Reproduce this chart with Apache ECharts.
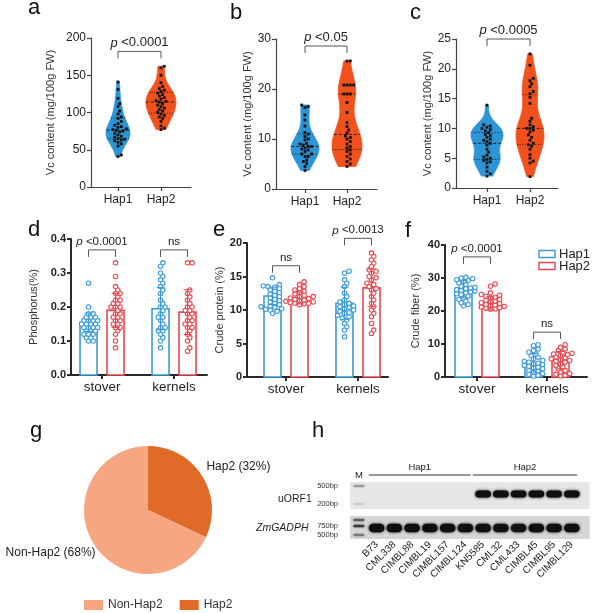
<!DOCTYPE html>
<html>
<head>
<meta charset="utf-8">
<title>Vc content, minerals and Hap2 frequency</title>
<script src="https://cdn.jsdelivr.net/npm/echarts@6.0.0/dist/echarts.min.js"></script>
<style>
html, body { margin: 0; padding: 0; background: #fff; }
#main { width: 594px; height: 613px; }
</style>
</head>
<body>
<div id="main"></div>
<script>
// 字体与配色
const FONT = '"Liberation Sans", Arial, sans-serif';
const VIOLIN_BLUE = '#2b95d6';
const VIOLIN_RED = '#f1521d';
const BAR_BLUE = '#3b9ad8';
const BAR_RED = '#e8474f';

// a-c: Vc content (mg/100g FW)
const hapNames = ['Hap1', 'Hap2'];
const vcA_hap1 = [141, 131, 119, 112, 108, 102, 98, 94, 92, 88, 85, 83, 81, 80, 78, 77, 76, 75, 74, 72, 70, 68, 67, 65, 64, 63, 62, 60, 58, 55, 43, 41];
const vcA_hap2 = [162, 160, 150, 140, 135, 132, 130, 128, 126, 124, 122, 120, 118, 116, 115, 114, 112, 110, 108, 106, 104, 102, 100, 98, 96, 94, 92, 88, 82, 79, 77];
const vcB_hap1 = [16.8, 16.5, 16.3, 14.8, 13.8, 12.6, 11.3, 11, 10.5, 10, 9.8, 9.1, 9, 8.8, 8.5, 8.5, 8.2, 8, 7.8, 7.5, 7, 7, 6.5, 6.5, 5.8, 5.5, 5.1, 4.5, 3.7];
const vcB_hap2 = [25.6, 25.6, 20.8, 20.8, 20.8, 20.8, 19, 19, 19, 17.3, 15.3, 13.3, 12.5, 11.8, 11.2, 10.6, 10.3, 10, 9.5, 9, 8.5, 8.2, 7.8, 7.5, 7, 6.5, 6, 5.5, 5, 4.5];
const vcC_hap1 = [13.9, 10.6, 10.4, 10.2, 10, 9.8, 9.6, 9.3, 9, 8.8, 8.5, 8.2, 8, 7.8, 7.5, 7.2, 6.5, 6, 5.5, 5.2, 5, 4.8, 4.6, 4.4, 4.2, 3.5, 2.8, 2.4, 2];
const vcC_hap2 = [22.5, 20.6, 18.4, 18, 17.5, 17, 16.2, 15.8, 15.2, 14.2, 11.7, 11.2, 10.6, 10.3, 10, 10, 9.7, 9.4, 8.9, 8.5, 8, 7.5, 7.25, 7, 6.5, 5.6, 5, 4.5, 4.2, 1.9];

// d-f: stover / kernels
const tissues = ['stover', 'kernels'];
const phosMean_hap1 = [0.155, 0.195];
const phosSd_hap1 = [0.027, 0.062];
const phosMean_hap2 = [0.19, 0.185];
const phosSd_hap2 = [0.05, 0.066];
const phosStover_hap1 = [0.27, 0.2, 0.18, 0.18, 0.17, 0.17, 0.17, 0.16, 0.16, 0.16, 0.16, 0.15, 0.15, 0.15, 0.15, 0.14, 0.14, 0.14, 0.14, 0.13, 0.13, 0.13, 0.12, 0.12, 0.12, 0.11, 0.11, 0.1, 0.1];
const phosStover_hap2 = [0.33, 0.29, 0.26, 0.25, 0.24, 0.24, 0.23, 0.22, 0.22, 0.21, 0.21, 0.2, 0.2, 0.2, 0.19, 0.18, 0.18, 0.17, 0.17, 0.16, 0.16, 0.15, 0.15, 0.14, 0.14, 0.13, 0.12, 0.1, 0.08];
const phosKernel_hap1 = [0.33, 0.32, 0.3, 0.29, 0.28, 0.27, 0.26, 0.25, 0.24, 0.22, 0.21, 0.2, 0.2, 0.19, 0.18, 0.17, 0.17, 0.16, 0.15, 0.14, 0.14, 0.13, 0.13, 0.12, 0.11, 0.1, 0.08];
const phosKernel_hap2 = [0.33, 0.33, 0.25, 0.24, 0.23, 0.22, 0.21, 0.2, 0.2, 0.19, 0.19, 0.18, 0.18, 0.17, 0.16, 0.16, 0.15, 0.15, 0.14, 0.14, 0.13, 0.12, 0.11, 0.1, 0.08, 0.07];

const protMean_hap1 = [12.1, 11.0];
const protSd_hap1 = [1.3, 2.4];
const protMean_hap2 = [11.8, 13.3];
const protSd_hap2 = [0.9, 2.8];
const protStover_hap1 = [14.8, 13.8, 13.6, 13.5, 13.4, 13.2, 13, 12.8, 12.6, 12.4, 12.2, 12, 11.8, 11.6, 11.4, 11.2, 11, 10.8, 10.6, 10.5, 10.4, 10.2, 10.1, 10, 9.8, 9.5];
const protStover_hap2 = [14.2, 13.8, 13.5, 13.2, 13, 12.8, 12.6, 12.4, 12.2, 12, 12, 11.8, 11.7, 11.6, 11.5, 11.4, 11.3, 11.2, 11.1, 11, 11, 10.9, 10.8];
const protKernel_hap1 = [15.8, 15.5, 14.5, 14, 13.5, 12.5, 12, 11.5, 11.2, 11, 10.8, 10.6, 10.5, 10.4, 10.2, 10, 9.8, 9.6, 9.5, 9.2, 9, 8.8, 8.5, 8, 7.5, 7, 6];
const protKernel_hap2 = [18.5, 18, 17.5, 17, 16.5, 16, 15.8, 15.5, 15, 14.8, 14.5, 14, 13.8, 13.5, 13.2, 13, 12.5, 12, 11.5, 11, 10.5, 10, 9.5, 9, 8, 7, 6.5];

const fibMean_hap1 = [26.6, 4.3];
const fibSd_hap1 = [2.6, 2.8];
const fibMean_hap2 = [22.3, 5.1];
const fibSd_hap2 = [2.0, 2.6];
const fibStover_hap1 = [30.2, 30, 29.8, 29.5, 29.3, 29, 28.5, 28, 27.5, 27.2, 27, 26.8, 26.5, 26.2, 26, 25.8, 25.5, 25.2, 25, 24.5, 24, 23.5, 23, 22.5, 22, 21.5];
const fibStover_hap2 = [28.2, 27.5, 25.5, 25, 24.8, 24.5, 24.2, 24, 23.5, 23.2, 23, 22.8, 22.5, 22.3, 22, 21.8, 21.6, 21.4, 21.2, 21, 20.8, 20.6, 20.5];
const fibKernel_hap1 = [9.8, 9.5, 8.5, 8, 7.5, 7, 6.5, 6, 5.5, 5, 4.8, 4.5, 4.2, 4, 3.8, 3.5, 3.2, 3, 2.8, 2.5, 2, 1.8, 1.5, 1, 0.8, 0.5, 0.2];
const fibKernel_hap2 = [9.8, 9, 8.5, 8, 7.5, 7.2, 7, 6.8, 6.5, 6, 5.8, 5.5, 5.2, 5, 4.8, 4.5, 4, 3.5, 3, 2.5, 2, 1.5, 1, 0.8, 0.5, 0.3];

// 显著性标注
const sigA = [{ x1: 1, x2: 2, y: 182, text: '{i|p} <0.0001' }];
const sigB = [{ x1: 1, x2: 2, y: 28.6, text: '{i|p} <0.05' }];
const sigC = [{ x1: 1, x2: 2, y: 25, text: '{i|p} <0.0005' }];
const sigD = [{ x1: 1, x2: 1, y: 0.368, text: '{i|p} <0.0001' }, { x1: 2, x2: 2, y: 0.368, text: 'ns' }];
const sigE = [{ x1: 1, x2: 1, y: 16.6, text: 'ns' }, { x1: 2, x2: 2, y: 20.7, text: '{i|p} <0.0013' }];
const sigF = [{ x1: 1, x2: 1, y: 36.4, text: '{i|p} <0.0001' }, { x1: 2, x2: 2, y: 13.6, text: 'ns' }];

// g: 饼图
const pieNames = ['Hap2', 'Non-Hap2'];
const pieValues = [32, 68];

// h: 凝胶电泳
const laneNames = ['B73', 'CML338', 'CIMBL88', 'CIMBL19', 'CIMBL157', 'CIMBL124', 'KN5585', 'CML32', 'CML433', 'CIMBL45', 'CIMBL95', 'CIMBL129'];
const uorf1Band = [0, 0, 0, 0, 0, 0, 1, 1, 1, 1, 1, 1];
const gadphBand = [1, 1, 1, 1, 1, 1, 1, 0.95, 0.95, 1, 1, 1];
const ladderPos = [6, 24, 40, 46, 55];
const ladderShade = [0.35, 0.12, 0.6, 0.8, 0.45];
const bpPos = [6, 24, 46, 55];
const bpText = ['500bp', '200bp', '750bp', '500bp'];
const gelGroups = [{ from: 0.56, to: 6.3, name: 'Hap1' }, { from: 6.42, to: 12.3, name: 'Hap2' }];

// ---------- 工具函数 ----------
function quantile(sorted, q) {
  const pos = (sorted.length - 1) * q;
  const lo = Math.floor(pos), hi = Math.ceil(pos);
  return sorted[lo] + (sorted[hi] - sorted[lo]) * (pos - lo);
}

function violinShape(values) {
  const s = values.slice().sort((a, b) => a - b);
  const n = s.length;
  const mean = s.reduce((a, b) => a + b, 0) / n;
  const sd = Math.sqrt(s.reduce((a, b) => a + (b - mean) * (b - mean), 0) / (n - 1));
  const bw = 0.8 * 1.06 * sd * Math.pow(n, -0.2);
  const lo = s[0], hi = s[n - 1];
  const prof = [];
  for (let i = 0; i <= 80; i++) {
    const y = lo + (hi - lo) * i / 80;
    let d = 0;
    s.forEach(v => { d += Math.exp(-0.5 * Math.pow((y - v) / bw, 2)); });
    prof.push([y, d]);
  }
  const m = Math.max.apply(null, prof.map(p => p[1]));
  prof.forEach(p => { p[1] /= m; });
  return { prof, q1: quantile(s, 0.25), med: quantile(s, 0.5), q3: quantile(s, 0.75) };
}

function widthAt(prof, v) {
  for (let i = 1; i < prof.length; i++) {
    if (prof[i][0] >= v) {
      const t = (v - prof[i - 1][0]) / (prof[i][0] - prof[i - 1][0] || 1);
      return prof[i - 1][1] + (prof[i][1] - prof[i - 1][1]) * t;
    }
  }
  return prof[prof.length - 1][1];
}

// 蜂群排布：点左右错开（第三维为像素偏移），tight 允许少量重叠
function swarm(x, values, pxPerUnit, diam, tight) {
  const placed = [];
  const out = [];
  values.slice().sort((a, b) => a - b).forEach(v => {
    const y = v * pxPerUnit;
    let off = 0;
    for (let k = 0; k < 40; k++) {
      const cand = (k % 2 ? 1 : -1) * Math.ceil(k / 2) * diam * 0.5;
      const hit = placed.some(p => Math.hypot(p[0] - cand, p[1] - y) < diam * tight);
      if (!hit) { off = cand; break; }
    }
    placed.push([off, y]);
    out.push([x, v, off]);
  });
  return out;
}

// ---------- renderItem ----------
function violinSeries(gi, sets, colors, halfW) {
  const shapes = sets.map(violinShape);
  return {
    type: 'custom', xAxisIndex: gi, yAxisIndex: gi, silent: true, z: 2,
    data: shapes.map((s, i) => [i + 1, s.med]),
    renderItem: function (params, api) {
      const sh = shapes[params.dataIndex];
      const hw = halfW[params.dataIndex];
      const x = api.value(0);
      const L = [], R = [];
      sh.prof.forEach(p => {
        const c = api.coord([x, p[0]]);
        L.push([c[0] - p[1] * hw, c[1]]);
        R.push([c[0] + p[1] * hw, c[1]]);
      });
      const children = [{
        type: 'polygon', shape: { points: L.concat(R.reverse()) },
        style: { fill: colors[params.dataIndex], stroke: colors[params.dataIndex], lineWidth: 0.8 }
      }];
      [[sh.med, [3, 2]], [sh.q1, [1, 1.6]], [sh.q3, [1, 1.6]]].forEach(function (q) {
        const w = widthAt(sh.prof, q[0]) * hw;
        const c = api.coord([x, q[0]]);
        children.push({
          type: 'line', shape: { x1: c[0] - w, y1: c[1], x2: c[0] + w, y2: c[1] },
          style: { stroke: '#1a1a1a', lineWidth: 0.9, lineDash: q[1] }
        });
      });
      return { type: 'group', children };
    }
  };
}

function squareDots(gi, data) {
  return {
    type: 'custom', xAxisIndex: gi, yAxisIndex: gi, silent: true, z: 3,
    data,
    renderItem: function (params, api) {
      const c = api.coord([api.value(0), api.value(1)]);
      return {
        type: 'rect',
        shape: { x: c[0] + api.value(2) - 1.4, y: c[1] - 1.4, width: 2.8, height: 2.8 },
        style: { fill: '#111' }
      };
    }
  };
}

const BAR_W = 17;
const BAR_OFF = 13.5;

function barSeries(gi, means, color, off) {
  return {
    type: 'custom', xAxisIndex: gi, yAxisIndex: gi, silent: true, z: 2,
    data: means.map((m, i) => [i + 1, m]),
    renderItem: function (params, api) {
      const b = api.coord([api.value(0), 0]);
      const t = api.coord([api.value(0), api.value(1)]);
      return {
        type: 'rect',
        shape: { x: b[0] + off - BAR_W / 2, y: t[1], width: BAR_W, height: b[1] - t[1] },
        style: { fill: '#fff', stroke: color, lineWidth: 1.6 }
      };
    }
  };
}

function errSeries(gi, means, sds, color, off) {
  return {
    type: 'custom', xAxisIndex: gi, yAxisIndex: gi, silent: true, z: 4,
    data: means.map((m, i) => [i + 1, m, sds[i]]),
    renderItem: function (params, api) {
      const x = api.value(0), m = api.value(1), sd = api.value(2);
      const hi = api.coord([x, m + sd]);
      const lo = api.coord([x, Math.max(0, m - sd)]);
      const cx = hi[0] + off;
      const st = { stroke: color, lineWidth: 1.1 };
      return {
        type: 'group', children: [
          { type: 'line', shape: { x1: cx, y1: hi[1], x2: cx, y2: lo[1] }, style: st },
          { type: 'line', shape: { x1: cx - 4, y1: hi[1], x2: cx + 4, y2: hi[1] }, style: st },
          { type: 'line', shape: { x1: cx - 4, y1: lo[1], x2: cx + 4, y2: lo[1] }, style: st }
        ]
      };
    }
  };
}

function circleDots(gi, data, color, off) {
  return {
    type: 'custom', xAxisIndex: gi, yAxisIndex: gi, silent: true, z: 3,
    data,
    renderItem: function (params, api) {
      const c = api.coord([api.value(0), api.value(1)]);
      return {
        type: 'circle',
        shape: { cx: c[0] + off + api.value(2), cy: c[1], r: 2.2 },
        style: { fill: '#fff', stroke: color, lineWidth: 1.1 }
      };
    }
  };
}

function sigSeries(gi, items, dx, fontSize) {
  return {
    type: 'custom', xAxisIndex: gi, yAxisIndex: gi, silent: true, z: 5,
    data: items.map(s => [s.x1, s.y, s.x2]),
    renderItem: function (params, api) {
      const it = items[params.dataIndex];
      const a = api.coord([api.value(0), api.value(1)]);
      const b = api.coord([api.value(2), api.value(1)]);
      const x1 = a[0] - dx, x2 = b[0] + dx, y = a[1];
      return {
        type: 'group', children: [
          { type: 'polyline', shape: { points: [[x1, y + 7], [x1, y], [x2, y], [x2, y + 7]] },
            style: { stroke: '#555', lineWidth: 1, fill: null } },
          { type: 'text', x: (x1 + x2) / 2, y: y - 2,
            style: { text: it.text, align: 'center', verticalAlign: 'bottom', fontSize, fontFamily: FONT, fill: '#222',
              rich: { i: { fontStyle: 'italic', fontSize, fontFamily: FONT, fill: '#222' } } } }
        ]
      };
    }
  };
}

// ---------- 坐标轴 ----------
const grids = [
  { left: 91, top: 38, width: 100, height: 149 },    // a
  { left: 276, top: 39, width: 101, height: 150 },   // b
  { left: 456, top: 39, width: 102, height: 149 },   // c
  { left: 71, top: 239, width: 136, height: 136 },   // d
  { left: 247, top: 243, width: 141, height: 134 },  // e
  { left: 445, top: 245, width: 142, height: 132 },  // f
  { left: 350, top: 460, width: 239.6, height: 80 }  // h
];

function xAx(gi, min, max, names, heavy) {
  const line = { color: heavy ? '#2a2a2a' : '#444', width: heavy ? 2 : 1.2 };
  return {
    gridIndex: gi, type: 'value', min, max,
    axisLine: { show: true, onZero: false, lineStyle: line },
    axisTick: { show: true, length: 4, customValues: [1, 2], lineStyle: line },
    axisLabel: { customValues: [1, 2], formatter: v => names[Math.round(v) - 1],
      fontSize: heavy ? 13.5 : 12, color: '#222', margin: heavy ? 5 : 7, fontFamily: FONT },
    splitLine: { show: false }
  };
}

function yAx(gi, max, step, name, gap, heavy, digits) {
  const line = { color: heavy ? '#2a2a2a' : '#444', width: heavy ? 2 : 1.2 };
  return {
    gridIndex: gi, type: 'value', min: 0, max, interval: step,
    name, nameLocation: 'middle', nameGap: gap,
    nameTextStyle: { fontSize: 11, color: '#333', fontFamily: FONT },
    axisLine: { show: true, onZero: false, lineStyle: line },
    axisTick: { show: true, length: 4, lineStyle: line },
    axisLabel: { fontSize: heavy ? 11 : 12, fontWeight: heavy ? 'bold' : 'normal', color: '#222', margin: 5,
      fontFamily: FONT, formatter: v => digits ? v.toFixed(digits) : String(v) },
    splitLine: { show: false }
  };
}

const xAxes = [
  xAx(0, 0.372, 2.698, hapNames, false),
  xAx(1, 0.31, 2.714, hapNames, false),
  xAx(2, 0.279, 2.651, hapNames, false),
  xAx(3, 0.569, 2.458, tissues, true),
  xAx(4, 0.458, 2.417, tissues, true),
  xAx(5, 0.543, 2.571, tissues, true),
  {
    gridIndex: 6, type: 'value', min: -0.5, max: 13,
    axisLine: { show: false, onZero: false }, axisTick: { show: false },
    axisLabel: { customValues: laneNames.map((n, i) => i + 1), formatter: v => laneNames[Math.round(v) - 1],
      rotate: 45, fontSize: 10, color: '#222', margin: 3, fontFamily: FONT },
    splitLine: { show: false }
  }
];

const yAxes = [
  yAx(0, 200, 50, 'Vc content (mg/100g FW)', 35, false, 0),
  yAx(1, 30, 10, 'Vc content (mg/100g FW)', 22, false, 0),
  yAx(2, 25, 5, 'Vc content (mg/100g FW)', 20, false, 0),
  yAx(3, 0.4, 0.1, 'Phosphorus(%)', 32, true, 1),
  yAx(4, 20, 5, 'Crude protein (%)', 17, true, 0),
  yAx(5, 40, 10, 'Crude fiber (%)', 24, true, 0),
  {
    gridIndex: 6, type: 'value', min: -20, max: 60, inverse: true,
    axisLine: { show: false, onZero: false }, axisTick: { show: false },
    axisLabel: { customValues: bpPos, formatter: v => bpText[bpPos.indexOf(Math.round(v))],
      fontSize: 7.5, color: '#333', margin: 12, fontFamily: FONT },
    splitLine: { show: false }
  }
];

// ---------- 系列 ----------
const series = [];

// a-c 小提琴 (每单位像素数由网格高度/轴最大值得出)
const VD = 3.3;
series.push(violinSeries(0, [vcA_hap1, vcA_hap2], [VIOLIN_BLUE, VIOLIN_RED], [12, 15]));
series.push(squareDots(0, swarm(1, vcA_hap1, 149 / 200, VD, 0.95).concat(swarm(2, vcA_hap2, 149 / 200, VD, 0.95))));
series.push(sigSeries(0, sigA, 0, 13));
series.push(violinSeries(1, [vcB_hap1, vcB_hap2], [VIOLIN_BLUE, VIOLIN_RED], [14, 15]));
series.push(squareDots(1, swarm(1, vcB_hap1, 150 / 30, VD, 0.95).concat(swarm(2, vcB_hap2, 150 / 30, VD, 0.95))));
series.push(sigSeries(1, sigB, 0, 13));
series.push(violinSeries(2, [vcC_hap1, vcC_hap2], [VIOLIN_BLUE, VIOLIN_RED], [16, 14]));
series.push(squareDots(2, swarm(1, vcC_hap1, 149 / 25, VD, 0.95).concat(swarm(2, vcC_hap2, 149 / 25, VD, 0.95))));
series.push(sigSeries(2, sigC, 0, 13));

// d-f 柱状图 + 散点 + 误差线
const CD = 4.6;
const barPanels = [
  { gi: 3, ppu: 136 / 0.4, m1: phosMean_hap1, s1: phosSd_hap1, m2: phosMean_hap2, s2: phosSd_hap2,
    d1: [phosStover_hap1, phosKernel_hap1], d2: [phosStover_hap2, phosKernel_hap2], sig: sigD },
  { gi: 4, ppu: 134 / 20, m1: protMean_hap1, s1: protSd_hap1, m2: protMean_hap2, s2: protSd_hap2,
    d1: [protStover_hap1, protKernel_hap1], d2: [protStover_hap2, protKernel_hap2], sig: sigE },
  { gi: 5, ppu: 132 / 40, m1: fibMean_hap1, s1: fibSd_hap1, m2: fibMean_hap2, s2: fibSd_hap2,
    d1: [fibStover_hap1, fibKernel_hap1], d2: [fibStover_hap2, fibKernel_hap2], sig: sigF }
];
barPanels.forEach(p => {
  series.push(barSeries(p.gi, p.m1, BAR_BLUE, -BAR_OFF));
  series.push(barSeries(p.gi, p.m2, BAR_RED, BAR_OFF));
  series.push(circleDots(p.gi, swarm(1, p.d1[0], p.ppu, CD, 0.78).concat(swarm(2, p.d1[1], p.ppu, CD, 0.78)), BAR_BLUE, -BAR_OFF));
  series.push(circleDots(p.gi, swarm(1, p.d2[0], p.ppu, CD, 0.78).concat(swarm(2, p.d2[1], p.ppu, CD, 0.78)), BAR_RED, BAR_OFF));
  series.push(errSeries(p.gi, p.m1, p.s1, BAR_BLUE, -BAR_OFF));
  series.push(errSeries(p.gi, p.m2, p.s2, BAR_RED, BAR_OFF));
  series.push(sigSeries(p.gi, p.sig, BAR_OFF, 11.5));
});

// g 饼图
series.push({
  type: 'pie', name: 'Hap2 frequency', center: [148, 510], radius: 64,
  startAngle: 90, clockwise: true, silent: true,
  data: pieNames.map((n, i) => ({ name: n, value: pieValues[i] })),
  color: ['#e06a27', '#f7a682'],
  label: { position: 'outside', formatter: '{b} ({c}%)', fontSize: 12, color: '#222', fontFamily: FONT, overflow: 'none' },
  labelLine: { show: false, length: 4, length2: 0 },
  labelLayout: function (params) {
    return params.dataIndex === 0 ? { dx: -4, dy: -7 } : { dx: 10, dy: 6 };
  },
  emphasis: { disabled: true }
});

// h 凝胶
const gelBg = ['#e6e6e6', '#d6d6d6'];
series.push({
  type: 'custom', xAxisIndex: 6, yAxisIndex: 6, silent: true, z: 1,
  data: [[2, 29, 0], [36, 59, 1]],
  renderItem: function (params, api) {
    const cs = params.coordSys;
    const t = api.coord([0, api.value(0)]);
    const b = api.coord([0, api.value(1)]);
    return { type: 'rect', shape: { x: cs.x, y: t[1], width: cs.width, height: b[1] - t[1] },
      style: { fill: gelBg[api.value(2)] } };
  }
});
series.push({
  type: 'custom', xAxisIndex: 6, yAxisIndex: 6, silent: true, z: 2,
  data: ladderPos.map((p, i) => [0, p, ladderShade[i]]),
  renderItem: function (params, api) {
    const c = api.coord([api.value(0), api.value(1)]);
    const a = api.value(2);
    return { type: 'rect', shape: { x: c[0] - 5.5, y: c[1] - 1.3, width: 11, height: 2.6, r: 1 },
      style: { fill: 'rgba(40,40,40,' + a + ')', shadowBlur: 2, shadowColor: 'rgba(40,40,40,' + a + ')' } };
  }
});
const bandData = [];
uorf1Band.forEach((v, i) => { if (v > 0) bandData.push([i + 1, 14, v, 7]); });
gadphBand.forEach((v, i) => { if (v > 0) bandData.push([i + 1, 48, v, 8.5]); });
series.push({
  type: 'custom', xAxisIndex: 6, yAxisIndex: 6, silent: true, z: 3,
  data: bandData,
  renderItem: function (params, api) {
    const c = api.coord([api.value(0), api.value(1)]);
    const h = api.value(3);
    const col = 'rgba(15,15,15,' + api.value(2) + ')';
    return { type: 'rect', shape: { x: c[0] - 7.8, y: c[1] - h / 2, width: 15.6, height: h, r: h / 2 },
      style: { fill: col, shadowBlur: 3, shadowColor: col } };
  }
});
series.push({
  type: 'custom', xAxisIndex: 6, yAxisIndex: 6, silent: true, z: 3,
  data: gelGroups.map(g => [g.from, -5, g.to]),
  renderItem: function (params, api) {
    const a = api.coord([api.value(0), api.value(1)]);
    const b = api.coord([api.value(2), api.value(1)]);
    const children = [
      { type: 'line', shape: { x1: a[0], y1: a[1], x2: b[0], y2: b[1] }, style: { stroke: '#333', lineWidth: 1 } },
      { type: 'text', x: (a[0] + b[0]) / 2, y: a[1] - 8,
        style: { text: gelGroups[params.dataIndex].name, align: 'center', verticalAlign: 'middle',
          fontSize: 9.5, fontFamily: FONT, fill: '#222' } }
    ];
    if (params.dataIndex === 0) {
      const m = api.coord([0, -5]);
      children.push({ type: 'text', x: m[0], y: m[1],
        style: { text: 'M', align: 'center', verticalAlign: 'middle', fontSize: 9.5, fontFamily: FONT, fill: '#222' } });
    }
    return { type: 'group', children };
  }
});

// ---------- 文字与图例 ----------
function letter(t, x, y) {
  return { type: 'text', x, y, style: { text: t, fontSize: 22, fontFamily: FONT, fill: '#111', verticalAlign: 'middle' } };
}
const graphic = [
  letter('a', 28, 7.5), letter('b', 230, 12.5), letter('c', 410, 12.5),
  letter('d', 28, 229.5), letter('e', 213, 229.5), letter('f', 405, 230.5),
  letter('g', 30, 431), letter('h', 312, 430.5),
  { type: 'rect', shape: { x: 539, y: 250.5, width: 16, height: 7 }, style: { fill: '#fff', stroke: BAR_BLUE, lineWidth: 1.4 } },
  { type: 'text', x: 559, y: 254, style: { text: 'Hap1', fontSize: 13, fontFamily: FONT, fill: '#222', verticalAlign: 'middle' } },
  { type: 'rect', shape: { x: 539, y: 262.5, width: 16, height: 7 }, style: { fill: '#fff', stroke: BAR_RED, lineWidth: 1.4 } },
  { type: 'text', x: 559, y: 266, style: { text: 'Hap2', fontSize: 13, fontFamily: FONT, fill: '#222', verticalAlign: 'middle' } },
  { type: 'text', x: 278, y: 499, style: { text: 'uORF1', fontSize: 10.5, fontFamily: FONT, fill: '#222', verticalAlign: 'middle' } },
  { type: 'text', x: 256, y: 528, style: { text: 'ZmGADPH', fontSize: 10.5, fontStyle: 'italic', fontFamily: FONT, fill: '#222', verticalAlign: 'middle' } }
];

const chart = echarts.init(document.getElementById('main'));
chart.setOption({
  animation: false,
  backgroundColor: '#fff',
  textStyle: { fontFamily: FONT },
  grid: grids,
  xAxis: xAxes,
  yAxis: yAxes,
  legend: {
    data: ['Non-Hap2', 'Hap2'], left: 79, top: 594, icon: 'rect',
    itemWidth: 19, itemHeight: 10, itemGap: 17, selectedMode: false,
    textStyle: { fontSize: 12, color: '#333', fontFamily: FONT }
  },
  graphic,
  series
});
</script>
</body>
</html>
